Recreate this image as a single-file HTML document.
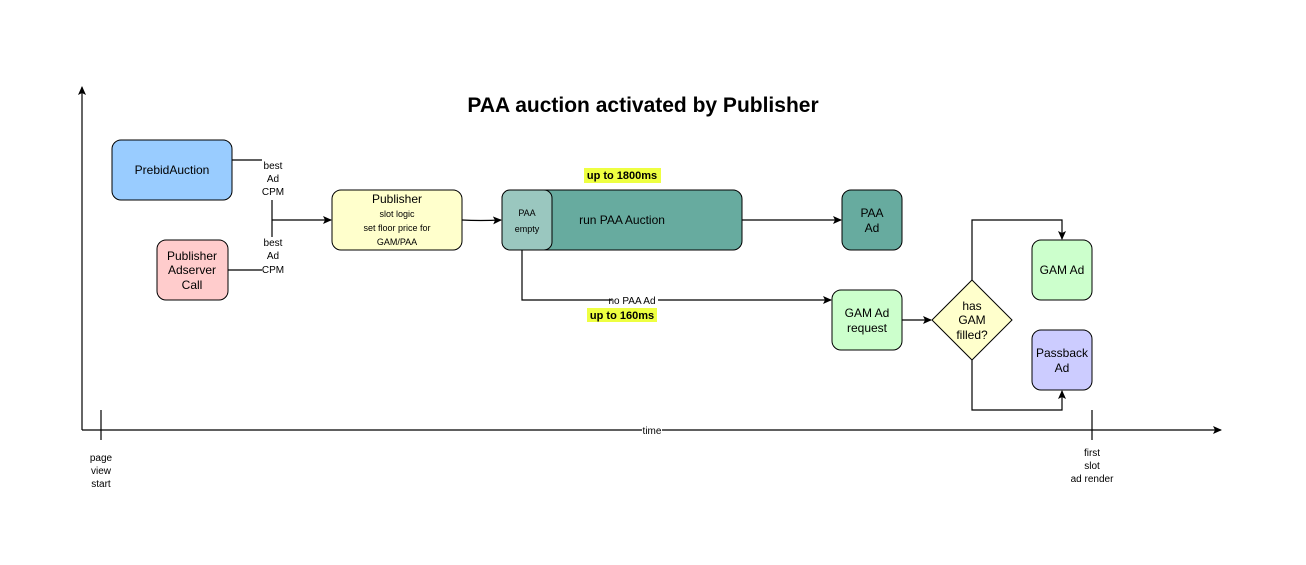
<!DOCTYPE html>
<html><head><meta charset="utf-8"><style>
body{margin:0;background:#fff}
svg{display:block;font-family:"Liberation Sans",Arial,sans-serif}
</style></head><body>
<svg width="1306" height="565" viewBox="0 0 1306 565" xmlns="http://www.w3.org/2000/svg">
<defs><marker id="a" markerWidth="10" markerHeight="10" refX="8" refY="5" orient="auto" markerUnits="userSpaceOnUse"><path d="M0,1 L9,5 L0,9 L2,5 Z" fill="#000"/></marker></defs>
<rect width="1306" height="565" fill="#fff"/>
<text x="643" y="112" font-size="21" font-weight="bold" text-anchor="middle">PAA auction activated by Publisher</text>
<g stroke="#000" stroke-width="1.2" fill="none">
<line x1="82" y1="430" x2="82" y2="87" marker-end="url(#a)"/>
<line x1="82" y1="430" x2="1221" y2="430" marker-end="url(#a)"/>
<line x1="101" y1="410" x2="101" y2="440"/>
<line x1="1092" y1="410" x2="1092" y2="440"/>
<line x1="232" y1="160" x2="262" y2="160"/>
<line x1="228" y1="270" x2="262" y2="270"/>
<line x1="272" y1="200" x2="272" y2="237"/>
<line x1="272" y1="220" x2="331" y2="220" marker-end="url(#a)"/>
<path d="M462,220 Q480,221 501,220" marker-end="url(#a)"/>
<line x1="742" y1="220" x2="841" y2="220" marker-end="url(#a)"/>
<path d="M522,250 V300 H831" marker-end="url(#a)"/>
<line x1="902" y1="320" x2="931" y2="320" marker-end="url(#a)"/>
<path d="M972,280 V220 H1062 V239" marker-end="url(#a)"/>
<path d="M972,360 V410 H1062 V391" marker-end="url(#a)"/>
</g>
<rect x="642" y="424" width="20" height="12" fill="#fff"/>
<text x="652" y="434" font-size="10" text-anchor="middle">time</text>
<g font-size="10" text-anchor="middle">
<text x="101" y="461">page</text><text x="101" y="474">view</text><text x="101" y="487">start</text>
<text x="1092" y="456">first</text><text x="1092" y="469">slot</text><text x="1092" y="482">ad render</text>
<text x="273" y="169">best</text><text x="273" y="182">Ad</text><text x="273" y="195">CPM</text>
<text x="273" y="246">best</text><text x="273" y="259">Ad</text><text x="273" y="273">CPM</text>
</g>
<rect x="112" y="140" width="120" height="60" rx="9" fill="#99ccff" stroke="#000"/>
<text x="172" y="174" font-size="12" text-anchor="middle">PrebidAuction</text>
<rect x="157" y="240" width="71" height="60" rx="9" fill="#ffcccc" stroke="#000"/>
<g font-size="12" text-anchor="middle"><text x="192" y="260">Publisher</text><text x="192" y="274">Adserver</text><text x="192" y="289">Call</text></g>
<rect x="332" y="190" width="130" height="60" rx="9" fill="#ffffcc" stroke="#000"/>
<text x="397" y="203" font-size="12" text-anchor="middle">Publisher</text>
<g font-size="9" text-anchor="middle"><text x="397" y="217">slot logic</text><text x="397" y="231">set floor price for</text><text x="397" y="245">GAM/PAA</text></g>
<rect x="502" y="190" width="240" height="60" rx="9" fill="#67ab9f" stroke="#000"/>
<rect x="502" y="190" width="50" height="60" rx="8" fill="#9ac7bf" stroke="#000"/>
<g font-size="9" text-anchor="middle"><text x="527" y="216">PAA</text><text x="527" y="232">empty</text></g>
<text x="622" y="224" font-size="12" text-anchor="middle">run PAA Auction</text>
<rect x="584" y="168" width="77" height="15" fill="#eeff41"/>
<text x="622" y="179" font-size="11" font-weight="bold" text-anchor="middle">up to 1800ms</text>
<rect x="612" y="294" width="46" height="12" fill="#fff"/>
<text x="632" y="304" font-size="10" text-anchor="middle">no PAA Ad</text>
<rect x="587" y="308" width="70" height="14" fill="#eeff41"/>
<text x="622" y="319" font-size="11" font-weight="bold" text-anchor="middle">up to 160ms</text>
<rect x="842" y="190" width="60" height="60" rx="9" fill="#67ab9f" stroke="#000"/>
<g font-size="12" text-anchor="middle"><text x="872" y="217">PAA</text><text x="872" y="232">Ad</text></g>
<rect x="832" y="290" width="70" height="60" rx="9" fill="#ccffcc" stroke="#000"/>
<g font-size="12" text-anchor="middle"><text x="867" y="317">GAM Ad</text><text x="867" y="332">request</text></g>
<path d="M972,280 L1012,320 L972,360 L932,320 Z" fill="#ffffcc" stroke="#000"/>
<g font-size="12" text-anchor="middle"><text x="972" y="310">has</text><text x="972" y="324">GAM</text><text x="972" y="339">filled?</text></g>
<rect x="1032" y="240" width="60" height="60" rx="9" fill="#ccffcc" stroke="#000"/>
<text x="1062" y="274" font-size="12" text-anchor="middle">GAM Ad</text>
<rect x="1032" y="330" width="60" height="60" rx="9" fill="#ccccff" stroke="#000"/>
<g font-size="12" text-anchor="middle"><text x="1062" y="357">Passback</text><text x="1062" y="372">Ad</text></g>
</svg>
</body></html>
